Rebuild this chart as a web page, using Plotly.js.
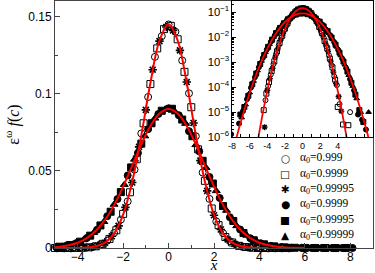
<!DOCTYPE html>
<html><head><meta charset="utf-8">
<script src="https://cdn.plot.ly/plotly-3.0.1.min.js"></script>
<style>html,body{margin:0;padding:0;background:#fff}</style>
</head><body><div id="chart" style="width:375px;height:273px"></div>
<script>
// ---- data ----
const xCirc = [-5.1,-4.8,-4.5,-4.2,-3.9,-3.6,-3.3,-3.0,-2.7,-2.4,-2.1,-1.8,-1.5,-1.2,-0.9,-0.6,-0.3,0,0.3,0.6,0.9,1.2,1.5,1.8,2.1,2.4,2.7,3.0,3.3,3.6,3.9,4.2,4.5,4.8,5.1,5.4];
const yCirc = [0,0,0,3.0e-5,1.1e-4,3.2e-4,8.4e-4,0.0021,0.0047,0.0097,0.0184,0.0302,0.0508,0.0742,0.0978,0.1238,0.1372,0.1448,0.1401,0.1215,0.1002,0.0724,0.0489,0.0318,0.0172,0.0096,0.0044,0.0019,7.6e-4,2.7e-4,1.2e-4,2.1e-5,0,0,0,1.0e-5];
const xSq = [-5.0,-4.7,-4.4,-4.1,-3.8,-3.5,-3.2,-2.9,-2.6,-2.3,-2.0,-1.7,-1.4,-1.1,-0.8,-0.5,-0.2,0.1,0.4,0.7,1.0,1.3,1.6,1.9,2.2,2.5,2.8,3.1,3.4,3.7,4.0,4.3,4.6,4.9,5.2];
const ySq = [0,0,1.2e-5,5.5e-5,1.6e-4,4.4e-4,0.00108,0.0027,0.0059,0.0115,0.0221,0.0361,0.0575,0.0808,0.1062,0.1293,0.1418,0.1439,0.1352,0.1141,0.0912,0.0639,0.0435,0.0256,0.0148,0.0071,0.0036,0.0014,6.2e-4,2.0e-4,1.6e-5,0,3.2e-6,0,3.0e-6];
const xStar = [-4.9,-4.6,-4.3,-4.0,-3.7,-3.4,-3.1,-2.8,-2.5,-2.2,-1.9,-1.6,-1.3,-1.0,-0.7,-0.4,-0.1,0.2,0.5,0.8,1.1,1.4,1.7,2.0,2.3,2.6,2.9,3.2,3.5,3.8,4.1,4.4,4.7,5.0,5.3];
const yStar = [0,0,2.5e-6,7.5e-5,2.2e-4,5.7e-4,0.0016,0.0034,0.0076,0.0143,0.0263,0.0424,0.0655,0.0895,0.1155,0.1340,0.1432,0.1410,0.1280,0.1075,0.0810,0.0566,0.0370,0.0212,0.0120,0.0056,0.0027,0.0011,4.0e-4,1.4e-4,4.2e-5,1.1e-5,0,0,0];

const xDot = [-8.1,-7.65,-7.2,-6.75,-6.3,-5.85,-5.4,-4.95,-4.5,-4.05,-3.6,-3.15,-2.7,-2.25,-1.8,-1.35,-0.9,-0.45,0,0.45,0.9,1.35,1.8,2.25,2.7,3.15,3.6,4.05,4.5,4.95,5.4,5.85,6.3,6.75,7.2,7.65,8.1];
const yDot = [1.3e-6,0,3.5e-6,1.1e-5,3.3e-5,9.5e-5,2.5e-4,6.3e-4,0.00148,0.00322,0.0065,0.0118,0.0206,0.0317,0.0470,0.0615,0.0770,0.0868,0.0905,0.0860,0.0757,0.0626,0.0460,0.0324,0.0199,0.0120,0.0063,0.0031,0.00140,5.8e-4,2.1e-4,7.5e-5,8.0e-6,5.0e-6,2.0e-6,0,0];
const xBox = [-7.95,-7.5,-7.05,-6.6,-6.15,-5.7,-5.25,-4.8,-4.35,-3.9,-3.45,-3.0,-2.55,-2.1,-1.65,-1.2,-0.75,-0.3,0.15,0.6,1.05,1.5,1.95,2.4,2.85,3.3,3.75,4.2,4.65,5.1,5.55,6.0,6.45,6.9,7.35,7.8];
const yBox = [0,0,8.0e-6,1.6e-5,4.5e-5,1.3e-4,3.5e-4,8.4e-4,0.00192,0.0041,0.0080,0.0146,0.0235,0.0362,0.0522,0.0676,0.0808,0.0889,0.0902,0.0832,0.0724,0.0565,0.0418,0.0272,0.0175,0.0097,0.0050,0.0024,0.00106,4.2e-4,1.5e-4,5.0e-5,1.2e-5,4.0e-6,0,0];
const xTri = [-7.8,-7.35,-6.9,-6.45,-6.0,-5.55,-5.1,-4.65,-4.2,-3.75,-3.3,-2.85,-2.4,-1.95,-1.5,-1.05,-0.6,-0.15,0.3,0.75,1.2,1.65,2.1,2.55,3.0,3.45,3.9,4.35,4.8,5.25,5.7,6.15,6.6,7.05,7.5,7.95];
const yTri = [0,0,6.0e-6,2.0e-5,6.0e-5,1.75e-4,4.6e-4,0.00112,0.00252,0.0052,0.0099,0.0170,0.0282,0.0410,0.0574,0.0725,0.0840,0.0899,0.0880,0.0806,0.0668,0.0520,0.0370,0.0243,0.0143,0.0081,0.0041,0.00185,7.9e-4,3.0e-4,1.1e-4,3.5e-5,1.0e-5,0,1.0e-5,0];

const xFitN = [-5.2,-4.8,-4.4,-4.0,-3.6,-3.2,-2.8,-2.4,-2.0,-1.6,-1.2,-0.8,-0.4,0,0.4,0.8,1.2,1.6,2.0,2.4,2.8,3.2,3.6,4.0,4.4,4.8,5.2];
const yFitN = [3.7e-7,2.5e-6,1.44e-5,7.1e-5,3.03e-4,0.00111,0.00347,0.00934,0.0216,0.0429,0.0730,0.1069,0.1344,0.1450,0.1344,0.1069,0.0730,0.0429,0.0216,0.00934,0.00347,0.00111,3.03e-4,7.1e-5,1.44e-5,2.5e-6,3.7e-7];
const xFitW = [-8.4,-8.0,-7.6,-7.2,-6.8,-6.4,-6.0,-5.6,-5.2,-4.8,-4.4,-4.0,-3.6,-3.2,-2.8,-2.4,-2.0,-1.6,-1.2,-0.8,-0.4,0,0.4,0.8,1.2,1.6,2.0,2.4,2.8,3.2,3.6,4.0,4.4,4.8,5.2,5.6,6.0,6.4,6.8,7.2,7.6,8.0,8.4];
const yFitW = [5e-8,1.9e-7,6.8e-7,2.29e-6,7.2e-6,2.11e-5,5.8e-5,1.5e-4,3.61e-4,8.17e-4,0.001731,0.003436,0.006388,0.01113,0.01817,0.02778,0.03979,0.05338,0.06709,0.07898,0.08711,0.0900,0.08711,0.07898,0.06709,0.05338,0.03979,0.02778,0.01817,0.01113,0.006388,0.003436,0.001731,8.17e-4,3.61e-4,1.5e-4,5.8e-5,2.11e-5,7.2e-6,2.29e-6,6.8e-7,1.9e-7,5e-8];

const seriesNames = ['α<sub>0</sub>=0.999','α<sub>0</sub>=0.9999','α<sub>0</sub>=0.99995','α<sub>0</sub>=0.9999','α<sub>0</sub>=0.99995','α<sub>0</sub>=0.99999'];
const legendGlyphs = ['○','□','✱','●','■','▲'];
const insetXTickVals = [-8,-6,-4,-2,0,2,4];
const insetXTickText = ['-8','-6','-4','-2','0','2','4'];

// ---- build ----
const symbols = ['circle-open','square-open','asterisk-open','circle','square','triangle-up'];
const xs = [xCirc,xSq,xStar,xDot,xBox,xTri];
const ys = [yCirc,ySq,yStar,yDot,yBox,yTri];

function keep(x, y, lo, hi){
  const ox=[], oy=[];
  for(let i=0;i<x.length;i++){ if(x[i]>=lo && x[i]<=hi){ ox.push(x[i]); oy.push(y[i]); } }
  return [ox, oy];
}

const traces = [];
for(let s=0;s<6;s++){
  const [fx, fy] = keep(xs[s], ys[s], -5.0, 9);
  traces.push({x:fx, y:fy, type:'scatter', mode:'markers', name:seriesNames[s], showlegend:false,
    cliponaxis:false, xaxis:'x', yaxis:'y',
    marker:{symbol:symbols[s], size:7, color:'#000', line:{color:'#000', width:s===2?1.6:1}}});
}
{
  const [nx, ny] = keep(xFitN, yFitN, -6, 4.4);
  const [wx, wy] = keep(xFitW, yFitW, -6, 6.0);
  traces.push({x:nx, y:ny, type:'scatter', mode:'lines', line:{color:'#ff0000', width:2, shape:'spline'}, showlegend:false, xaxis:'x', yaxis:'y'});
  traces.push({x:wx, y:wy, type:'scatter', mode:'lines', line:{color:'#ff0000', width:2, shape:'spline'}, showlegend:false, xaxis:'x', yaxis:'y'});
}
for(let s=0;s<6;s++){
  traces.push({x:xs[s], y:ys[s], type:'scatter', mode:'markers', name:seriesNames[s], showlegend:false,
    xaxis:'x2', yaxis:'y2',
    marker:{symbol:symbols[s], size:5, color:'#000', line:{color:'#000', width:s===2?1.4:1}}});
}
traces.push({x:xFitN, y:yFitN, type:'scatter', mode:'lines', line:{color:'#ff0000', width:1.8, shape:'spline'}, showlegend:false, xaxis:'x2', yaxis:'y2'});
traces.push({x:xFitW, y:yFitW, type:'scatter', mode:'lines', line:{color:'#ff0000', width:1.8, shape:'spline'}, showlegend:false, xaxis:'x2', yaxis:'y2'});

const sans = 'Liberation Sans, Arial, sans-serif';
const serif = 'Liberation Serif, Times New Roman, serif';
const axCol = '#444';

const annotations = [];
for(let i=0;i<6;i++){
  const yp = 0.363 - i*0.062;
  annotations.push({xref:'paper', yref:'paper', x:0.7233, y:yp, xanchor:'center', yanchor:'middle',
    text:legendGlyphs[i], showarrow:false, font:{family:'DejaVu Sans', size:10.5, color:'#000'}});
  annotations.push({xref:'paper', yref:'paper', x:0.764, y:yp, xanchor:'left', yanchor:'middle',
    text:seriesNames[i], showarrow:false, font:{family:serif, size:11.5, color:'#000'}});
}

const layout = {
  width:375, height:273,
  margin:{l:55, r:2, t:1, b:25},
  paper_bgcolor:'#fff', plot_bgcolor:'#fff',
  showlegend:false,
  xaxis:{domain:[0,1], anchor:'y', range:[-5,9], tickmode:'linear', tick0:0, dtick:2,
    ticks:'inside', ticklen:5, tickcolor:axCol, ticklabelstandoff:-2,
    minor:{ticks:'inside', ticklen:3, tick0:0, dtick:1, tickcolor:axCol},
    showline:true, mirror:true, linecolor:axCol, linewidth:1, showgrid:false, zeroline:false,
    tickfont:{family:sans, size:12, color:'#000'},
    title:{text:'<i>x</i>', font:{family:serif, size:15, color:'#000'}, standoff:0}},
  yaxis:{domain:[0,1], anchor:'x', range:[0,0.16], tickmode:'linear', tick0:0, dtick:0.05,
    ticks:'inside', ticklen:5, tickcolor:axCol,
    minor:{ticks:'inside', ticklen:3, tick0:0, dtick:0.025, tickcolor:axCol},
    showline:true, mirror:true, linecolor:axCol, linewidth:1, showgrid:false, zeroline:false,
    tickfont:{family:sans, size:12, color:'#000'},
    title:{text:'ε<sup>ω</sup> <i>f</i>(<i>c</i>)', font:{family:serif, size:16, color:'#000'}, standoff:4}},
  xaxis2:{domain:[0.5566,1], anchor:'y2', range:[-8,8], tickmode:'array',
    tickvals:insetXTickVals, ticktext:insetXTickText,
    ticks:'inside', ticklen:3, tickcolor:'#000',
    minor:{ticks:'inside', ticklen:3, tick0:0, dtick:1, tickcolor:'#000'},
    showline:true, mirror:true, linecolor:'#000', linewidth:1, showgrid:false, zeroline:false,
    tickfont:{family:sans, size:9, color:'#000'}},
  yaxis2:{domain:[0.449,1], anchor:'x2', type:'log', range:[-6,-0.55], dtick:1,
    exponentformat:'power', ticks:'inside', ticklen:4, tickcolor:'#000',
    minor:{ticks:'inside', ticklen:2, dtick:'D1', tickcolor:'#000'},
    showline:true, mirror:true, linecolor:'#000', linewidth:1, showgrid:false, zeroline:false,
    tickfont:{family:sans, size:9, color:'#000'}},
  annotations: annotations
};

Plotly.newPlot('chart', traces, layout, {displayModeBar:false, staticPlot:true});
</script></body></html>
